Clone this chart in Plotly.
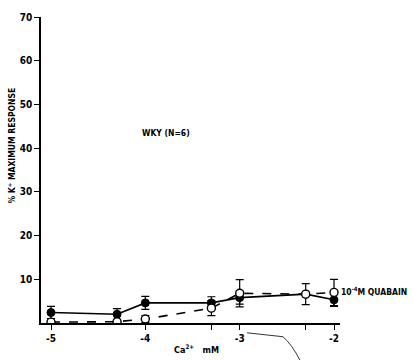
import plotly.graph_objects as go

# log10 Ca2+ concentration (M)
log_ca = [-5, -4.3, -4, -3.3, -3, -2.3, -2]
control = [2.4, 2.0, 4.6, 4.6, 5.8, 6.6, 5.3]
control_err = [1.4, 1.3, 1.5, 1.4, 1.5, 2.4, 1.5]
ouabain = [0.2, 0.3, 0.9, 3.4, 6.8, 6.6, 7.0]
ouabain_err = [0.0, 0.0, 0.8, 1.7, 3.1, 0.0, 3.0]

x_tickvals = [-5, -4, -3.3, -3, -2.3, -2]
x_ticktext = ["-5", "-4", "", "-3", "", "-2"]
y_tickvals = [10, 20, 30, 40, 50, 60, 70]

FONT = "DejaVu Sans Condensed, Liberation Sans Narrow, Arial Narrow, sans-serif"

fig = go.Figure()
fig.add_trace(go.Scatter(
    x=log_ca, y=control, mode="lines+markers",
    line=dict(color="black", width=1.6),
    marker=dict(symbol="circle", size=8, color="black", line=dict(color="black", width=1)),
    error_y=dict(type="data", array=control_err, color="black", thickness=1.2, width=4),
    showlegend=False,
))
fig.add_trace(go.Scatter(
    x=log_ca, y=ouabain, mode="lines+markers",
    line=dict(color="black", width=1.6, dash="dash"),
    marker=dict(symbol="circle", size=8, color="white", line=dict(color="black", width=1.4)),
    error_y=dict(type="data", array=ouabain_err, color="black", thickness=1.2, width=4),
    showlegend=False,
))

L, R = 41, 340
T, B = 11, 323
W, H = 413, 360

def px(x):
    return (x - L) / (R - L)

def py(y):
    return (B - y) / (B - T)

fig.update_layout(
    width=W, height=H,
    margin=dict(l=L, r=W - R, t=T, b=H - B),
    paper_bgcolor="white", plot_bgcolor="white",
    font=dict(family=FONT, color="black", size=9),
    xaxis=dict(
        range=[-5 - 10 / 94.3, -2 + 6 / 94.3],
        tickvals=x_tickvals, ticktext=x_ticktext,
        ticks="outside", ticklen=5, tickwidth=1.2, tickcolor="black",
        showline=True, linecolor="black", linewidth=1.5,
        showgrid=False, zeroline=False,
        tickfont=dict(family=FONT, size=10, color="black", weight="bold"),
    ),
    yaxis=dict(
        range=[0, 70],
        tickvals=y_tickvals,
        ticks="outside", ticklen=5, tickwidth=1.2, tickcolor="black",
        showline=True, linecolor="black", linewidth=1.5,
        showgrid=False, zeroline=False,
        tickfont=dict(family=FONT, size=10, color="black", weight="bold"),
    ),
)

anns = [
    dict(text="<b>% K<sup>+</sup> MAXIMUM RESPONSE</b>", x=px(12), y=py(142), textangle=-90,
         xanchor="center", yanchor="middle", font=dict(size=8.5)),
    dict(text="<b>WKY (N=6)</b>", x=px(140), y=py(129), xanchor="left", yanchor="middle",
         font=dict(size=8.5)),
    dict(text="<b>10<sup>-4</sup>M QUABAIN</b>", x=px(339), y=py(290), xanchor="left",
         yanchor="middle", font=dict(size=8.5)),
    dict(text="<b>Ca<sup>2+</sup>   mM</b>", x=px(172), y=py(350), xanchor="left",
         yanchor="middle", font=dict(size=9)),
]
for a in anns:
    fig.add_annotation(xref="paper", yref="paper", showarrow=False, **a)

# hand-drawn stray line on the scan
fig.add_shape(type="path", xref="paper", yref="paper",
              path=f"M {px(247)} {py(333)} L {px(283)} {py(337)} Q {px(292)} {py(345)} {px(300)} {py(361)}",
              line=dict(color="black", width=0.8))

fig.write_html("out.html")
